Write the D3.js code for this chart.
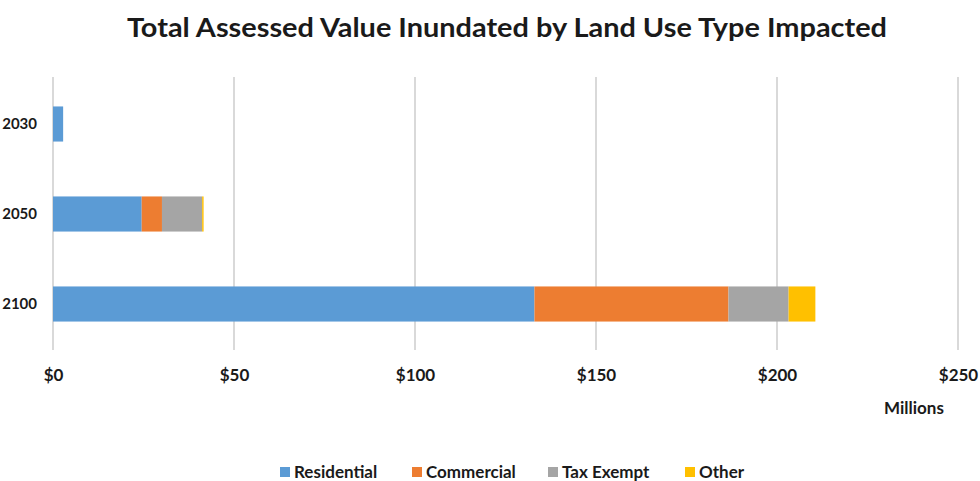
<!DOCTYPE html>
<html>
<head>
<meta charset="utf-8">
<script src="https://cdn.jsdelivr.net/npm/d3@7/dist/d3.min.js"></script>
<style>
  html, body { margin: 0; padding: 0; background: #fff; }
  svg { display: block; }
  text { font-family: Lato, "Open Sans", sans-serif; font-weight: bold; fill: #1a1a1a; }
</style>
</head>
<body>
<svg id="chart" width="980" height="481"></svg>
<script>
// Scenario years (rows) and the land-use series stacked along each bar, in $ millions
const years = ["2030", "2050", "2100"];
const series = ["Residential", "Commercial", "Tax Exempt", "Other"];
const residential = [2.8, 24.5, 133.0];
const commercial  = [0.0, 5.6, 53.6];
const taxExempt   = [0.0, 11.1, 16.6];
const other       = [0.0, 0.4, 7.4];
const xTicks = [0, 50, 100, 150, 200, 250];
const colors = ["#5B9BD5", "#ED7D31", "#A5A5A5", "#FFC000"];

const rows = years.map((y, i) => ({
  year: y,
  "Residential": residential[i],
  "Commercial": commercial[i],
  "Tax Exempt": taxExempt[i],
  "Other": other[i]
}));

const svg = d3.select("#chart");
const labelFont = "Lato, 'Open Sans', sans-serif";

const x = d3.scaleLinear().domain([0, 250]).range([53, 958]);
const y = d3.scaleBand().domain(years).range([79, 349]).paddingInner(0.61).paddingOuter(0.305);
const color = d3.scaleOrdinal().domain(series).range(colors);

// Title
svg.append("text")
  .attr("x", 507).attr("y", 37)
  .attr("text-anchor", "middle")
  .attr("font-size", 27)
  .attr("textLength", 760).attr("lengthAdjust", "spacingAndGlyphs")
  .text("Total Assessed Value Inundated by Land Use Type Impacted");

// Vertical gridlines
svg.append("g")
  .selectAll("line")
  .data(xTicks)
  .join("line")
  .attr("x1", d => x(d)).attr("x2", d => x(d))
  .attr("y1", 77).attr("y2", 350)
  .attr("stroke", "#d9d9d9")
  .attr("stroke-width", 2);

// Stacked bars
const stacked = d3.stack().keys(series)(rows);
svg.append("g")
  .selectAll("g")
  .data(stacked)
  .join("g")
  .attr("fill", d => color(d.key))
  .selectAll("rect")
  .data(d => d)
  .join("rect")
  .attr("x", d => x(d[0]))
  .attr("width", d => Math.max(0, x(d[1]) - x(d[0])))
  .attr("y", d => y(d.data.year))
  .attr("height", y.bandwidth());

// Bottom axis labels
const xAxis = d3.axisBottom(x)
  .tickValues(xTicks)
  .tickSize(0)
  .tickPadding(0)
  .tickFormat(d => "$" + d);
const gx = svg.append("g").attr("transform", "translate(0,381)").call(xAxis);
gx.select(".domain").remove();
gx.selectAll("text")
  .attr("font-size", 17)
  .attr("font-family", labelFont)
  .attr("font-weight", "bold")
  .attr("fill", "#1a1a1a")
  .attr("dy", 0);

// Left axis labels (year)
const yAxis = d3.axisLeft(y).tickSize(0).tickPadding(0);
const gy = svg.append("g").attr("transform", "translate(37,0)").call(yAxis);
gy.select(".domain").remove();
gy.selectAll("text")
  .attr("font-size", 15)
  .attr("font-family", labelFont)
  .attr("font-weight", "bold")
  .attr("fill", "#1a1a1a");

// Axis unit
svg.append("text")
  .attr("x", 914).attr("y", 414)
  .attr("text-anchor", "middle")
  .attr("font-size", 17)
  .text("Millions");

// Legend
const legendX = [280, 412, 548, 685];
const legend = svg.append("g")
  .selectAll("g")
  .data(series)
  .join("g")
  .attr("transform", (d, i) => `translate(${legendX[i]},472)`);
legend.append("rect")
  .attr("x", 0).attr("y", -5)
  .attr("width", 10).attr("height", 10)
  .attr("fill", d => color(d));
legend.append("text")
  .attr("x", 14).attr("y", 6)
  .attr("font-size", 17)
  .text(d => d);
</script>
</body>
</html>
